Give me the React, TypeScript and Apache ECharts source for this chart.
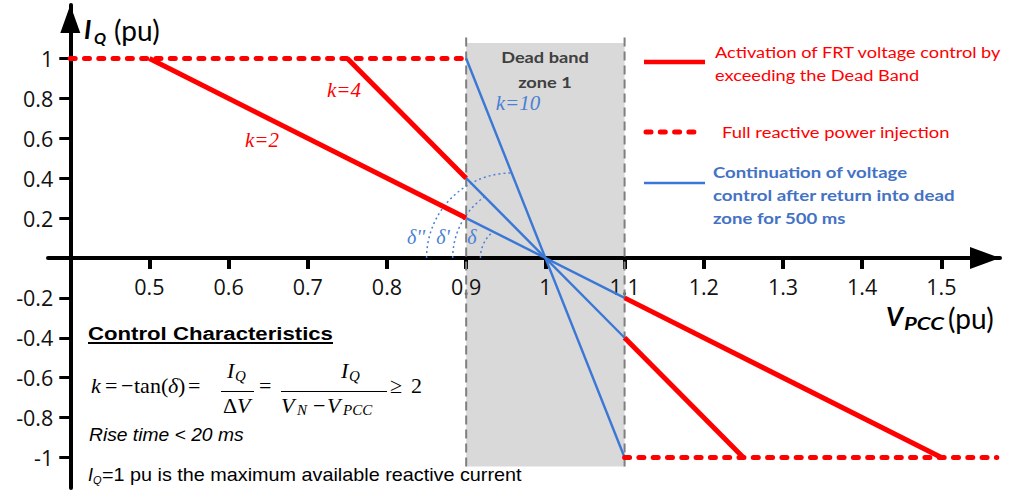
import React, { useEffect, useRef } from 'react';
import * as echarts from 'echarts';

// ---- axis ticks ----
const xTicks = [0.5, 0.6, 0.7, 0.8, 0.9, 1, 1.1, 1.2, 1.3, 1.4, 1.5];
const yTicks = [-1, -0.8, -0.6, -0.4, -0.2, 0.2, 0.4, 0.6, 0.8, 1];

// ---- series values (V_PCC pu, I_Q pu) ----
const activationK2Under = [[0.5, 1], [0.9, 0.2]];
const activationK4Under = [[0.75, 1], [0.9, 0.4]];
const activationK2Over = [[1.1, -0.2], [1.5, -1]];
const activationK4Over = [[1.1, -0.4], [1.25, -1]];
const fullInjectionUnder = [[0.4, 1], [0.9, 1]];
const fullInjectionOver = [[1.1, -1], [1.57, -1]];
const continuationK2 = [[0.9, 0.2], [1.1, -0.2]];
const continuationK4 = [[0.9, 0.4], [1.1, -0.4]];
const continuationK10 = [[0.9, 1], [1.1, -1]];
const deadBandRect = [[0.9, -1.045, 1.1, 1.078]];
const deadBandLeft = [[0.9, -1.045], [0.9, 1.128]];
const deadBandRight = [[1.1, -1.045], [1.1, 1.128]];
// angle arcs: [start V on axis, slope k, I_Q where arc meets line]
const angleArcs = [[0.85, 10, 0.426], [0.883, 4, 0.307], [0.918, 2, 0.132]];

const X_MIN = 0.372;
const X_MAX = 1.574;
const Y_MIN = -1.153;
const Y_MAX = 1.268;
const GRID = { left: 48, right: 10, top: 5, bottom: 4 };
const PLOT_H = 492 - GRID.top - GRID.bottom;
const ZERO_FROM_BOTTOM = (PLOT_H * (0 - Y_MIN)) / (Y_MAX - Y_MIN);

const RED = '#ff0000';
const BLUE = '#3b78d6';
const BLUE_TXT = '#4472c4';
const BLUE_LBL = '#4a80d6';
const CAL = 'Lato';
const TICKF = "'Open Sans'";
const TIMES = "'Liberation Serif'";
const ARIAL = "'Liberation Sans'";

const lineSeries = (data: number[][], color: string, width: number, type: any, z: number, cap = 'butt') => ({
  type: 'line',
  data,
  symbol: 'none',
  z,
  silent: true,
  clip: false,
  lineStyle: { color, width, type, cap },
});

const txt = (text: string, x: number, y: number, font: string, fill: string, align = 'left', sx = 1) => ({
  type: 'text',
  x,
  y,
  scaleX: sx,
  silent: true,
  z: 10,
  style: { text, font, fill, textAlign: align, textVerticalAlign: 'middle', align, verticalAlign: 'middle' },
});
const ln = (x1: number, y1: number, x2: number, y2: number, stroke: string, lineWidth: number, lineDash?: number[]) => ({
  type: 'line',
  silent: true,
  z: 10,
  shape: { x1, y1, x2, y2 },
  style: { stroke, lineWidth, lineDash, lineCap: lineDash ? 'round' : 'butt' },
});

export default function App() {
  const ref = useRef<HTMLDivElement>(null);
  useEffect(() => {
    const chart = echarts.init(ref.current!, null, { renderer: 'svg' });
    const option: any = {
      animation: false,
      backgroundColor: '#ffffff',
      grid: { ...GRID, containLabel: false, outerBoundsMode: 'none' },
      xAxis: {
        type: 'value',
        min: X_MIN,
        max: X_MAX,
        position: 'bottom',
        offset: -ZERO_FROM_BOTTOM,
        z: 1,
        axisLine: {
          onZero: false,
          lineStyle: { color: '#000', width: 4 },
          symbol: ['none', 'triangle'],
          symbolSize: [22, 30],
          symbolOffset: [0, -15],
        },
        axisTick: { show: true, customValues: xTicks, length: 11, lineStyle: { color: '#000', width: 4 } },
        axisLabel: {
          customValues: xTicks,
          formatter: (v: number) => String(Math.round(v * 10) / 10),
          fontFamily: TICKF,
          fontSize: 21.5,
          color: '#111',
          margin: 18,
        },
        splitLine: { show: false },
      },
      yAxis: {
        type: 'value',
        min: Y_MIN,
        max: Y_MAX,
        offset: -22.3,
        z: 1,
        axisLine: {
          show: true,
          onZero: false,
          lineStyle: { color: '#000', width: 4 },
          symbol: ['none', 'triangle'],
          symbolSize: [20, 28],
          symbolOffset: [0, -14],
        },
        axisTick: { show: true, customValues: yTicks, length: 11, lineStyle: { color: '#000', width: 3 } },
        axisLabel: {
          customValues: yTicks,
          formatter: (v: number) => String(Math.round(v * 10) / 10),
          fontFamily: TICKF,
          fontSize: 21.5,
          color: '#111',
          margin: 17,
        },
        splitLine: { show: false },
      },
      series: [
        {
          type: 'custom',
          z: 0,
          silent: true,
          clip: false,
          data: deadBandRect,
          encode: { x: [0, 2], y: [1, 3] },
          renderItem: (params: any, api: any) => {
            const p0 = api.coord([api.value(0), api.value(3)]);
            const p1 = api.coord([api.value(2), api.value(1)]);
            return {
              type: 'rect',
              shape: { x: p0[0], y: p0[1], width: p1[0] - p0[0], height: p1[1] - p0[1] },
              style: { fill: '#d9d9d9' },
            };
          },
        },
        lineSeries(deadBandLeft, '#7f7f7f', 2, [9, 5], 1.5),
        lineSeries(deadBandRight, '#7f7f7f', 2, [9, 5], 1.5),
        {
          type: 'custom',
          z: 2,
          silent: true,
          clip: false,
          data: angleArcs,
          encode: { x: 0, y: 2 },
          renderItem: (params: any, api: any) => {
            const xs = api.value(0);
            const k = api.value(1);
            const ye = api.value(2);
            const p0 = api.coord([xs, 0]);
            const p1 = api.coord([1 - ye / k, ye]);
            const dy = p1[1] - p0[1];
            const cx = (p1[0] * p1[0] + dy * dy - p0[0] * p0[0]) / (2 * (p1[0] - p0[0]));
            const r = cx - p0[0];
            const end = Math.atan2(p1[1] - p0[1], p1[0] - cx) + Math.PI * 2;
            return {
              type: 'arc',
              shape: { cx, cy: p0[1], r, startAngle: Math.PI, endAngle: end, clockwise: true },
              style: { stroke: BLUE_LBL, lineWidth: 1.5, lineDash: [2, 3], fill: null },
            };
          },
        },
        lineSeries(continuationK2, BLUE, 2.4, 'solid', 2),
        lineSeries(continuationK4, BLUE, 2.4, 'solid', 2),
        lineSeries(continuationK10, BLUE, 2.4, 'solid', 2),
        lineSeries(fullInjectionUnder, RED, 5, [5, 9.3], 3, 'round'),
        lineSeries(fullInjectionOver, RED, 5, [5, 9.3], 3, 'round'),
        lineSeries(activationK2Under, RED, 5, 'solid', 3),
        lineSeries(activationK4Under, RED, 5, 'solid', 3),
        lineSeries(activationK2Over, RED, 5, 'solid', 3),
        lineSeries(activationK4Over, RED, 5, 'solid', 3),
      ],
      graphic: [
        // axis titles
        txt('I', 84, 28.5, `italic bold 26px ${CAL}`, '#000'),
        txt('Q', 94, 37, `italic bold 16px ${CAL}`, '#000'),
        txt('(pu)', 114, 30, `28px ${CAL}`, '#000'),
        txt('V', 886, 316, `italic bold 26px ${CAL}`, '#000'),
        txt('PCC', 904, 324, `italic bold 17px ${CAL}`, '#000', 'left', 1.3),
        txt('(pu)', 948, 318, `28px ${CAL}`, '#000'),
        // dead band
        txt('Dead band', 545, 57, `bold 16px ${CAL}`, '#404040', 'center', 1.14),
        txt('zone 1', 545, 82, `bold 16px ${CAL}`, '#404040', 'center', 1.14),
        // slopes
        txt('k=2', 262, 140, `italic 21px ${TIMES}`, RED, 'center'),
        txt('k=4', 344, 90, `italic 21px ${TIMES}`, RED, 'center'),
        txt('k=10', 518, 103, `italic 21px ${TIMES}`, BLUE_LBL, 'center'),
        txt("\u03b4''", 416, 237, `italic 20px ${TIMES}`, BLUE_LBL, 'center'),
        txt("\u03b4'", 443, 237, `italic 20px ${TIMES}`, BLUE_LBL, 'center'),
        txt('\u03b4', 472, 237, `italic 20px ${TIMES}`, BLUE_LBL, 'center'),
        // legend
        ln(644, 62, 705, 62, RED, 4.5),
        txt('Activation of FRT voltage control by', 715, 52, `16px ${CAL}`, RED, 'left', 1.135),
        txt('exceeding the Dead Band', 715, 75, `16px ${CAL}`, RED, 'left', 1.14),
        ln(646, 132, 702, 132, RED, 5, [5, 9.3]),
        txt('Full reactive power injection', 722, 132, `16px ${CAL}`, RED, 'left', 1.15),
        ln(644, 183, 705, 183, BLUE, 2.4),
        txt('Continuation of voltage', 713, 172, `bold 16px ${CAL}`, BLUE_TXT, 'left', 1.16),
        txt('control after return into dead', 713, 195, `bold 16px ${CAL}`, BLUE_TXT, 'left', 1.17),
        txt('zone for 500 ms', 713, 218, `bold 16px ${CAL}`, BLUE_TXT, 'left', 1.16),
        // control characteristics
        txt('Control Characteristics', 88, 333, `bold 19px ${ARIAL}`, '#000', 'left', 1.167),
        ln(88, 343, 333, 343, '#000', 2),
        txt('k', 91, 385, `italic 22px ${TIMES}`, '#000'),
        txt('=', 105, 385, `22px ${TIMES}`, '#000'),
        txt('\u2212', 121, 385, `22px ${TIMES}`, '#000'),
        txt('tan(', 134, 385, `22px ${TIMES}`, '#000'),
        txt('\u03b4', 168, 385, `italic 22px ${TIMES}`, '#000'),
        txt(')', 178, 385, `22px ${TIMES}`, '#000'),
        txt('=', 188, 385, `22px ${TIMES}`, '#000'),
        txt('I', 227, 370, `italic 22px ${TIMES}`, '#000'),
        txt('Q', 235, 376, `italic 15px ${TIMES}`, '#000'),
        ln(221, 391.5, 254, 391.5, '#000', 1.2),
        txt('\u0394', 223, 405, `22px ${TIMES}`, '#000'),
        txt('V', 237, 405, `italic 22px ${TIMES}`, '#000'),
        txt('=', 259, 385, `22px ${TIMES}`, '#000'),
        txt('I', 341, 370, `italic 22px ${TIMES}`, '#000'),
        txt('Q', 349, 376, `italic 15px ${TIMES}`, '#000'),
        ln(281, 391.5, 387, 391.5, '#000', 1.2),
        txt('V', 281, 405, `italic 22px ${TIMES}`, '#000'),
        txt('N', 297, 410, `italic 15px ${TIMES}`, '#000'),
        txt('\u2212', 313, 405, `22px ${TIMES}`, '#000'),
        txt('V', 327, 405, `italic 22px ${TIMES}`, '#000'),
        txt('PCC', 343, 410, `italic 15px ${TIMES}`, '#000'),
        txt('\u2265', 390, 385, `22px ${TIMES}`, '#000'),
        txt('2', 411, 385, `22px ${TIMES}`, '#000'),
        txt('Rise time < 20 ms', 89, 435, `italic 18px ${ARIAL}`, '#000', 'left', 1.07),
        txt('I', 88, 475, `italic 18px ${ARIAL}`, '#000'),
        txt('Q', 93, 480, `italic 11px ${ARIAL}`, '#000'),
        txt('=1 pu is the maximum available reactive current', 102, 475, `18px ${ARIAL}`, '#000', 'left', 1.1),
      ],
    };
    chart.setOption(option);
    return () => chart.dispose();
  }, []);
  return (
    <div
      ref={ref}
      style={{ position: 'fixed', left: 0, top: 0, width: 1010, height: 492, background: '#fff' }}
    />
  );
}
